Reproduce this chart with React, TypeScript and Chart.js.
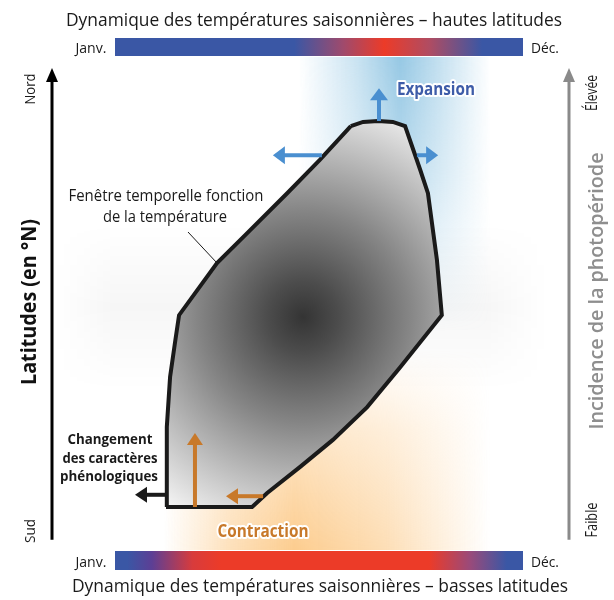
import { useEffect, useRef } from 'react';
import { Chart, registerables } from 'chart.js';

Chart.register(...registerables);

// Axis labels
const SEASON_TICKS = ['Janv.', 'Déc.'];
const LAT_TICKS = ['Sud', 'Nord'];
const PHOTO_TICKS = ['Faible', 'Élevée'];

// Thermal window polygon (x: season 0-100 from Janv. to Déc., y: latitude 0-100 from Sud to Nord)
const SHAPE_X = [57.8, 60.8, 64.5, 68.1, 71.1, 74.8, 76.7, 78.9, 80.1, 69.9, 61.8, 53.4, 45.3, 37.3, 33.6, 12.5, 12.7, 13.5, 14.7, 15.7, 25.0, 32.4, 42.2, 50.2];
const SHAPE_Y = [87.6, 88.5, 88.7, 88.5, 87.6, 78.3, 73.3, 59.1, 47.3, 36.2, 27.7, 20.7, 14.9, 9.4, 6.4, 6.4, 23.5, 34.1, 41.4, 47.3, 58.4, 64.8, 73.3, 80.4];

// Arrows (start x, start y, end x, end y) in the same units
const EXPANSION_ARROWS = [
  [64.7, 88.7, 64.7, 95.7],
  [50.7, 81.4, 38.7, 81.4],
  [74.0, 81.4, 79.2, 81.4],
];
const CONTRACTION_ARROWS = [
  [19.6, 6.4, 19.6, 22.2],
  [36.3, 8.7, 27.2, 8.7],
];
const PHENO_ARROW = [12.5, 9.0, 4.9, 9.0];

function fitText(
  ctx: CanvasRenderingContext2D,
  text: string,
  cx: number,
  cy: number,
  width: number,
  font: string,
  color: string,
  rot = 0,
  baseline: CanvasTextBaseline = 'alphabetic',
  stroke?: string
) {
  ctx.save();
  ctx.font = font;
  const m = ctx.measureText(text).width || 1;
  ctx.translate(cx, cy);
  if (rot) ctx.rotate(rot);
  ctx.scale(width / m, 1);
  ctx.textAlign = 'center';
  ctx.textBaseline = baseline;
  if (stroke) {
    ctx.lineWidth = 4;
    ctx.lineJoin = 'round';
    ctx.strokeStyle = stroke;
    ctx.strokeText(text, 0, 0);
  }
  ctx.fillStyle = color;
  ctx.fillText(text, 0, 0);
  ctx.restore();
}

function arrow(
  ctx: CanvasRenderingContext2D,
  x1: number,
  y1: number,
  x2: number,
  y2: number,
  color: string,
  lw: number,
  headLen: number,
  headHalf: number
) {
  const a = Math.atan2(y2 - y1, x2 - x1);
  const bx = x2 - Math.cos(a) * headLen;
  const by = y2 - Math.sin(a) * headLen;
  ctx.save();
  ctx.strokeStyle = color;
  ctx.fillStyle = color;
  ctx.lineWidth = lw;
  ctx.lineCap = 'butt';
  ctx.beginPath();
  ctx.moveTo(x1, y1);
  ctx.lineTo(bx + Math.cos(a) * 1, by + Math.sin(a) * 1);
  ctx.stroke();
  ctx.beginPath();
  ctx.moveTo(x2, y2);
  ctx.lineTo(bx + Math.cos(a + Math.PI / 2) * headHalf, by + Math.sin(a + Math.PI / 2) * headHalf);
  ctx.lineTo(bx - Math.cos(a + Math.PI / 2) * headHalf, by - Math.sin(a + Math.PI / 2) * headHalf);
  ctx.closePath();
  ctx.fill();
  ctx.restore();
}

// soft rectangular glow: colour with horizontal and vertical alpha profiles
function glow(
  ctx: CanvasRenderingContext2D,
  x0: number,
  y0: number,
  x1: number,
  y1: number,
  rgb: string,
  alpha: number,
  hStops: number[][],
  vStops: number[][]
) {
  const w = Math.max(1, Math.round(x1 - x0));
  const h = Math.max(1, Math.round(y1 - y0));
  const off = document.createElement('canvas');
  off.width = w;
  off.height = h;
  const o = off.getContext('2d');
  if (!o) return;
  const hg = o.createLinearGradient(0, 0, w, 0);
  hStops.forEach(([p, a]) => hg.addColorStop(p, `rgba(${rgb},${a * alpha})`));
  o.fillStyle = hg;
  o.fillRect(0, 0, w, h);
  o.globalCompositeOperation = 'destination-in';
  const vg = o.createLinearGradient(0, 0, 0, h);
  vStops.forEach(([p, a]) => vg.addColorStop(p, `rgba(0,0,0,${a})`));
  o.fillStyle = vg;
  o.fillRect(0, 0, w, h);
  ctx.drawImage(off, x0, y0);
}

const FONT = '"Open Sans", "Noto Sans", sans-serif';

const diagramPlugin = {
  id: 'diagram',
  beforeDraw(chart: any) {
    const { ctx, width, height } = chart;
    const xs = chart.scales.x;
    const ys = chart.scales.y;
    const px = (v: number) => xs.getPixelForValue(v);
    const py = (v: number) => ys.getPixelForValue(v);
    ctx.save();
    ctx.fillStyle = '#ffffff';
    ctx.fillRect(0, 0, width, height);

    // faint gray horizontal band
    glow(ctx, px(-15), py(67), px(106), py(31), '0,0,0', 0.035,
      [[0, 0], [0.12, 1], [0.88, 1], [1, 0]],
      [[0, 0], [0.5, 1], [1, 0]]);

    // blue glow (expansion)
    glow(ctx, px(45), 57, px(92), py(44), '150,200,228', 1,
      [[0, 0], [0.3, 0.5], [0.53, 1], [0.72, 0.6], [1, 0]],
      [[0, 1], [0.45, 0.65], [1, 0]]);

    // orange glow (contraction)
    glow(ctx, px(12), py(40), px(92), 550, '252,204,142', 1,
      [[0, 0], [0.2, 0.6], [0.4, 1], [0.68, 0.65], [1, 0]],
      [[0, 0], [0.4, 0.5], [1, 1]]);

    // season bars
    const bx0 = px(0), bx1 = px(100);
    const blue = '#3a57a5';
    const red = '#ec3b28';
    {
      const g = ctx.createLinearGradient(bx0, 0, bx1, 0);
      g.addColorStop(0, blue);
      g.addColorStop(0.44, blue);
      g.addColorStop(0.56, '#a04a6c');
      g.addColorStop(0.66, red);
      g.addColorStop(0.77, '#b04c62');
      g.addColorStop(0.9, blue);
      g.addColorStop(1, blue);
      ctx.fillStyle = g;
      ctx.fillRect(bx0, 38, bx1 - bx0, 18);
    }
    {
      const g = ctx.createLinearGradient(bx0, 0, bx1, 0);
      g.addColorStop(0, blue);
      g.addColorStop(0.03, blue);
      g.addColorStop(0.09, '#5c3f95');
      g.addColorStop(0.19, '#d83b3c');
      g.addColorStop(0.26, red);
      g.addColorStop(0.77, red);
      g.addColorStop(0.87, '#9a4a7a');
      g.addColorStop(0.96, blue);
      g.addColorStop(1, blue);
      ctx.fillStyle = g;
      ctx.fillRect(bx0, 551, bx1 - bx0, 19);
    }
    ctx.restore();
  },
  beforeDatasetsDraw(chart: any) {
    const { ctx } = chart;
    const meta = chart.getDatasetMeta(0);
    const pts = meta.data;
    if (!pts.length) return;
    const cx = chart.scales.x.getPixelForValue(46.1);
    const cy = chart.scales.y.getPixelForValue(46.9);
    ctx.save();
    ctx.beginPath();
    pts.forEach((p: any, i: number) => (i ? ctx.lineTo(p.x, p.y) : ctx.moveTo(p.x, p.y)));
    ctx.closePath();
    const g = ctx.createRadialGradient(cx, cy, 0, cx, cy, 235);
    g.addColorStop(0, '#343434');
    g.addColorStop(0.15, '#4c4c4c');
    g.addColorStop(0.45, '#858585');
    g.addColorStop(0.72, '#bdbdbd');
    g.addColorStop(1, '#f7f7f7');
    ctx.fillStyle = g;
    ctx.fill();
    ctx.restore();
  },
  afterDatasetsDraw(chart: any) {
    const { ctx } = chart;
    const px = (v: number) => chart.scales.x.getPixelForValue(v);
    const py = (v: number) => chart.scales.y.getPixelForValue(v);
    EXPANSION_ARROWS.forEach(([a, b, c, d]) => arrow(ctx, px(a), py(b), px(c), py(d), '#4a8fd0', 4, 12, 9));
    CONTRACTION_ARROWS.forEach(([a, b, c, d]) => arrow(ctx, px(a), py(b), px(c), py(d), '#c8792a', 4, 12, 8));
    {
      const [a, b, c, d] = PHENO_ARROW;
      arrow(ctx, px(a), py(b), px(c), py(d), '#1a1a1a', 4, 12, 8);
    }
    // leader line
    ctx.save();
    ctx.strokeStyle = '#1a1a1a';
    ctx.lineWidth = 1;
    ctx.beginPath();
    ctx.moveTo(188, 232);
    ctx.lineTo(217, 263);
    ctx.stroke();
    ctx.restore();
  },
  afterDraw(chart: any) {
    const { ctx } = chart;
    const py = (v: number) => chart.scales.y.getPixelForValue(v);
    // axis arrows
    arrow(ctx, 52, py(-0.6), 52, py(100), '#000000', 3, 14, 6);
    arrow(ctx, 569, py(-0.6), 569, py(100), '#8a8a8a', 3, 14, 6);

    // titles
    fitText(ctx, 'Dynamique des températures saisonnières – hautes latitudes', 314, 26, 496, `19px ${FONT}`, '#1a1a1a');
    fitText(ctx, 'Dynamique des températures saisonnières – basses latitudes', 320, 592, 496, `19px ${FONT}`, '#1a1a1a');
    // season ticks
    fitText(ctx, SEASON_TICKS[0], 91, 53, 31, `15px ${FONT}`, '#1a1a1a');
    fitText(ctx, SEASON_TICKS[1], 545, 53, 28, `15px ${FONT}`, '#1a1a1a');
    fitText(ctx, SEASON_TICKS[0], 91, 567, 31, `15px ${FONT}`, '#1a1a1a');
    fitText(ctx, SEASON_TICKS[1], 545, 567, 28, `15px ${FONT}`, '#1a1a1a');

    const R = -Math.PI / 2;
    // left axis
    fitText(ctx, LAT_TICKS[1], 31, 89, 31, `15px ${FONT}`, '#1a1a1a', R, 'middle');
    fitText(ctx, LAT_TICKS[0], 31, 531, 24, `15px ${FONT}`, '#1a1a1a', R, 'middle');
    fitText(ctx, 'Latitudes (en °N)', 30, 302, 166, `bold 21px ${FONT}`, '#111111', R, 'middle');
    // right axis
    fitText(ctx, PHOTO_TICKS[1], 592, 93, 36, `16px ${FONT}`, '#1a1a1a', R, 'middle');
    fitText(ctx, PHOTO_TICKS[0], 592, 520, 35, `16px ${FONT}`, '#1a1a1a', R, 'middle');
    fitText(ctx, 'Incidence de la photopériode', 597, 291, 277, `600 20px ${FONT}`, '#8e8e8e', R, 'middle');

    // annotations
    fitText(ctx, 'Fenêtre temporelle fonction', 166, 201, 195, `16px ${FONT}`, '#1a1a1a');
    fitText(ctx, 'de la température', 165, 222, 124, `16px ${FONT}`, '#1a1a1a');
    fitText(ctx, 'Changement', 110, 444, 85, `bold 15px ${FONT}`, '#1a1a1a');
    fitText(ctx, 'des caractères', 110, 463, 95, `bold 15px ${FONT}`, '#1a1a1a');
    fitText(ctx, 'phénologiques', 109, 481, 98, `bold 15px ${FONT}`, '#1a1a1a');
    fitText(ctx, 'Expansion', 436, 95, 78, `bold 17px ${FONT}`, '#3e5ca8', 0, 'alphabetic', '#ffffff');
    fitText(ctx, 'Contraction', 263, 537, 91, `bold 17px ${FONT}`, '#c8792a', 0, 'alphabetic', '#ffffff');
  },
};

export default function App() {
  const ref = useRef<HTMLCanvasElement>(null);
  useEffect(() => {
    document.body.style.margin = '0';
    const canvas = ref.current;
    if (!canvas) return;
    const pts = SHAPE_X.map((x, i) => ({ x, y: SHAPE_Y[i] }));
    pts.push({ ...pts[0] });
    const chart = new Chart(canvas, {
      type: 'scatter',
      data: {
        datasets: [
          {
            label: 'Fenêtre temporelle',
            data: pts,
            showLine: true,
            borderColor: '#1a1a1a',
            borderWidth: 4,
            borderJoinStyle: 'miter',
            pointRadius: 0,
            fill: false,
            tension: 0,
            clip: false,
          } as any,
        ],
      },
      options: {
        responsive: false,
        animation: false,
        events: [],
        layout: { padding: { left: 115, right: 91, top: 68, bottom: 63 } },
        scales: {
          x: { type: 'linear', min: 0, max: 100, display: false },
          y: { type: 'linear', min: 0, max: 100, display: false },
        },
        plugins: { legend: { display: false }, tooltip: { enabled: false } },
      },
      plugins: [diagramPlugin],
    });
    return () => chart.destroy();
  }, []);
  return <canvas ref={ref} width={614} height={600} style={{ display: 'block', width: 614, height: 600 }} />;
}
